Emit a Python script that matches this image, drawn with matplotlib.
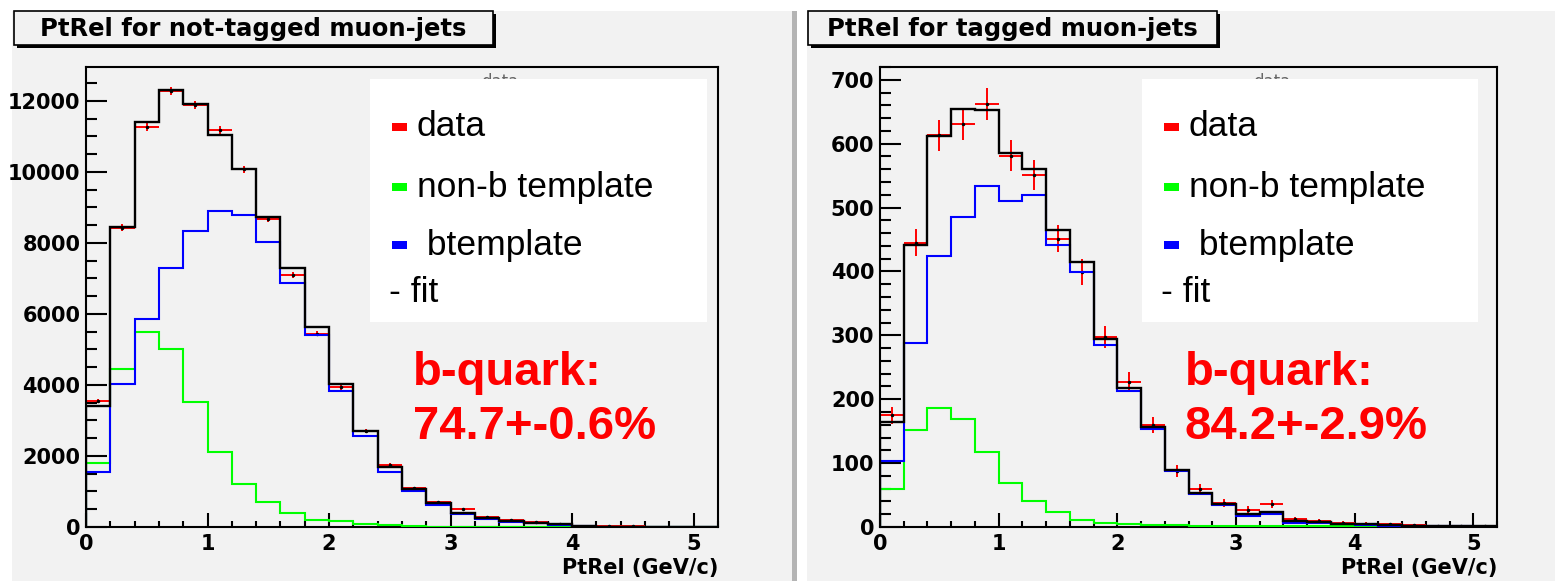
import numpy as np
import matplotlib
matplotlib.use("Agg")
import matplotlib.pyplot as plt
from matplotlib.patches import Rectangle
from matplotlib.ticker import MultipleLocator

# PtRel templates fit, bins of 0.2 GeV/c from 0 to 5.2
edges = np.arange(0, 5.21, 0.2)

# not-tagged muon-jets
data_L = [3550, 8430, 11260, 12280, 11880, 11170, 10070, 8670, 7100, 5440, 3930, 2700, 1750,
          1100, 700, 500, 290, 200, 140, 85, 10, 15, 20, 0, 0, 0]
fit_L = [3410, 8450, 11400, 12310, 11910, 11030, 10080, 8720, 7280, 5630, 4020, 2690, 1700,
         1080, 670, 400, 245, 170, 105, 75, 28, 10, 5, 3, 1, 0]
btempl_L = [1560, 4030, 5850, 7280, 8320, 8900, 8780, 8020, 6880, 5400, 3830, 2560, 1560,
            1000, 620, 370, 220, 150, 100, 50, 15, 5, 2, 0, 0, 0]
nonb_L = [1810, 4440, 5480, 5010, 3520, 2120, 1210, 690, 385, 205, 160, 75, 70,
          15, 12, 10, 8, 6, 5, 4, 3, 0, 0, 0, 0, 0]

# tagged muon-jets
data_R = [175, 445, 613, 631, 662, 581, 551, 451, 399, 298, 227, 159, 87,
          60, 38, 27, 36, 12, 10, 7, 5, 4, 3, 2, 2, 1]
fit_R = [165, 442, 612, 655, 652, 585, 560, 465, 415, 294, 217, 157, 89,
         53, 36, 21, 23, 10, 8, 5, 4, 3, 2, 2, 1, 1]
btempl_R = [103, 288, 424, 485, 533, 511, 519, 441, 399, 285, 213, 153, 87,
            52, 34, 18, 20, 7, 7, 4, 3, 2, 1, 1, 1, 0]
nonb_R = [60, 152, 186, 169, 118, 69, 40, 23, 11, 7, 5, 3, 3,
          2, 2, 2, 1, 1, 1, 1, 1, 1, 0, 0, 0, 0]

titles = ["PtRel for not-tagged muon-jets", "PtRel for tagged muon-jets"]
fractions = ["b-quark:\n74.7+-0.6%", "b-quark:\n84.2+-2.9%"]

W, H = 1555, 581
fig = plt.figure(figsize=(W / 100, H / 100), dpi=100, facecolor="white")
BG = "#f2f2f2"


def px(x, y):
    return x / W, 1 - y / H


def rect(x0, y0, x1, y1, **kw):
    fx, fy = px(x0, y1)
    r = Rectangle((fx, fy), (x1 - x0) / W, (y1 - y0) / H, transform=fig.transFigure, **kw)
    fig.patches.append(r)


# pad backgrounds and separator
rect(12, 11, 792, 581, facecolor=BG, edgecolor="none", zorder=-10)
rect(807, 11, 1555, 581, facecolor=BG, edgecolor="none", zorder=-10)
rect(792, 11, 797, 581, facecolor="#b4b4b4", edgecolor="none", zorder=-10)

panels = [
    dict(ax=(86, 67, 718, 527), ymax=12950, major=2000, minor=500,
         data=data_L, fit=fit_L, b=btempl_L, nonb=nonb_L,
         tbox=(14, 11, 493, 45), leg=(370, 79, 707, 322), frac=(413, 400)),
    dict(ax=(880, 67, 1497, 527), ymax=720, major=100, minor=20,
         data=data_R, fit=fit_R, b=btempl_R, nonb=nonb_R,
         tbox=(808, 11, 1217, 45), leg=(1142, 79, 1478, 322), frac=(1185, 400)),
]

centers = (edges[:-1] + edges[1:]) / 2

for i, p in enumerate(panels):
    x0, y0, x1, y1 = p["ax"]
    ax = fig.add_axes([x0 / W, 1 - y1 / H, (x1 - x0) / W, (y1 - y0) / H])
    ax.set_facecolor(BG)

    d = np.array(p["data"], dtype=float)
    m = d > 0
    ax.errorbar(centers[m], d[m], xerr=0.1, yerr=np.sqrt(d[m]), fmt="o", ms=1.5,
                color="black", ecolor="red", elinewidth=1.4, zorder=2)
    ax.stairs(p["nonb"], edges, color="#00ff00", lw=1.5, zorder=3)
    ax.stairs(p["b"], edges, color="blue", lw=1.5, zorder=3)
    ax.stairs(p["fit"], edges, color="black", lw=1.7, zorder=4)

    ax.set_xlim(0, 5.2)
    ax.set_ylim(0, p["ymax"])
    ax.xaxis.set_major_locator(MultipleLocator(1))
    ax.xaxis.set_minor_locator(MultipleLocator(0.2))
    ax.yaxis.set_major_locator(MultipleLocator(p["major"]))
    ax.yaxis.set_minor_locator(MultipleLocator(p["minor"]))
    ax.tick_params(axis="y", which="major", direction="in", length=15, width=1.5, pad=4)
    ax.tick_params(axis="y", which="minor", direction="in", length=8, width=1.5)
    ax.tick_params(axis="x", which="major", direction="in", length=10, width=1.5, pad=5)
    ax.tick_params(axis="x", which="minor", direction="in", length=4.5, width=1.5)
    for lab in ax.get_xticklabels() + ax.get_yticklabels():
        lab.set_fontweight("bold")
        lab.set_fontsize(15)
    for s in ax.spines.values():
        s.set_linewidth(1.5)
    ax.set_xlabel("PtRel (GeV/c)", fontsize=15, fontweight="bold", loc="right", labelpad=3)

    # title box with shadow
    tx0, ty0, tx1, ty1 = p["tbox"]
    rect(tx0 + 3, ty0 + 3, tx1 + 3, ty1 + 3, facecolor="black", edgecolor="none", zorder=5)
    rect(tx0, ty0, tx1, ty1, facecolor=BG, edgecolor="black", lw=1.2, zorder=6)
    fig.text(*px((tx0 + tx1) / 2, (ty0 + ty1) / 2 + 1), titles[i], fontsize=17.5,
             fontweight="bold", ha="center", va="center", zorder=7)

    # hidden histogram title peeking above legend
    lx0, ly0, lx1, ly1 = p["leg"]
    fig.text(*px(lx0 + 130, ly0 + 3), "data", fontsize=12, color="#666666",
             ha="center", va="center", zorder=8)
    rect(lx0, ly0, lx1, ly1, facecolor="white", edgecolor="none", zorder=9)
    entries = [("red", "data", 127), ("#00ff00", "non-b template", 187), ("blue", " btemplate", 245)]
    for col, txt, yy in entries:
        rect(lx0 + 22, yy - 4, lx0 + 37, yy + 4, facecolor=col, edgecolor="none", zorder=10)
        fig.text(*px(lx0 + 47, yy), txt, fontsize=25.5, family="Liberation Sans",
                 ha="left", va="center", zorder=10)
    fig.text(*px(lx0 + 19, 293), "- fit", fontsize=25.5, family="Liberation Sans",
             ha="left", va="center", zorder=10)

    fx, fy = p["frac"]
    fig.text(*px(fx, fy), fractions[i], fontsize=34, fontweight="bold", color="red",
             family="Liberation Sans", ha="left", va="center", linespacing=1.3, zorder=10)

fig.savefig("out.png", dpi=100, facecolor="white")
